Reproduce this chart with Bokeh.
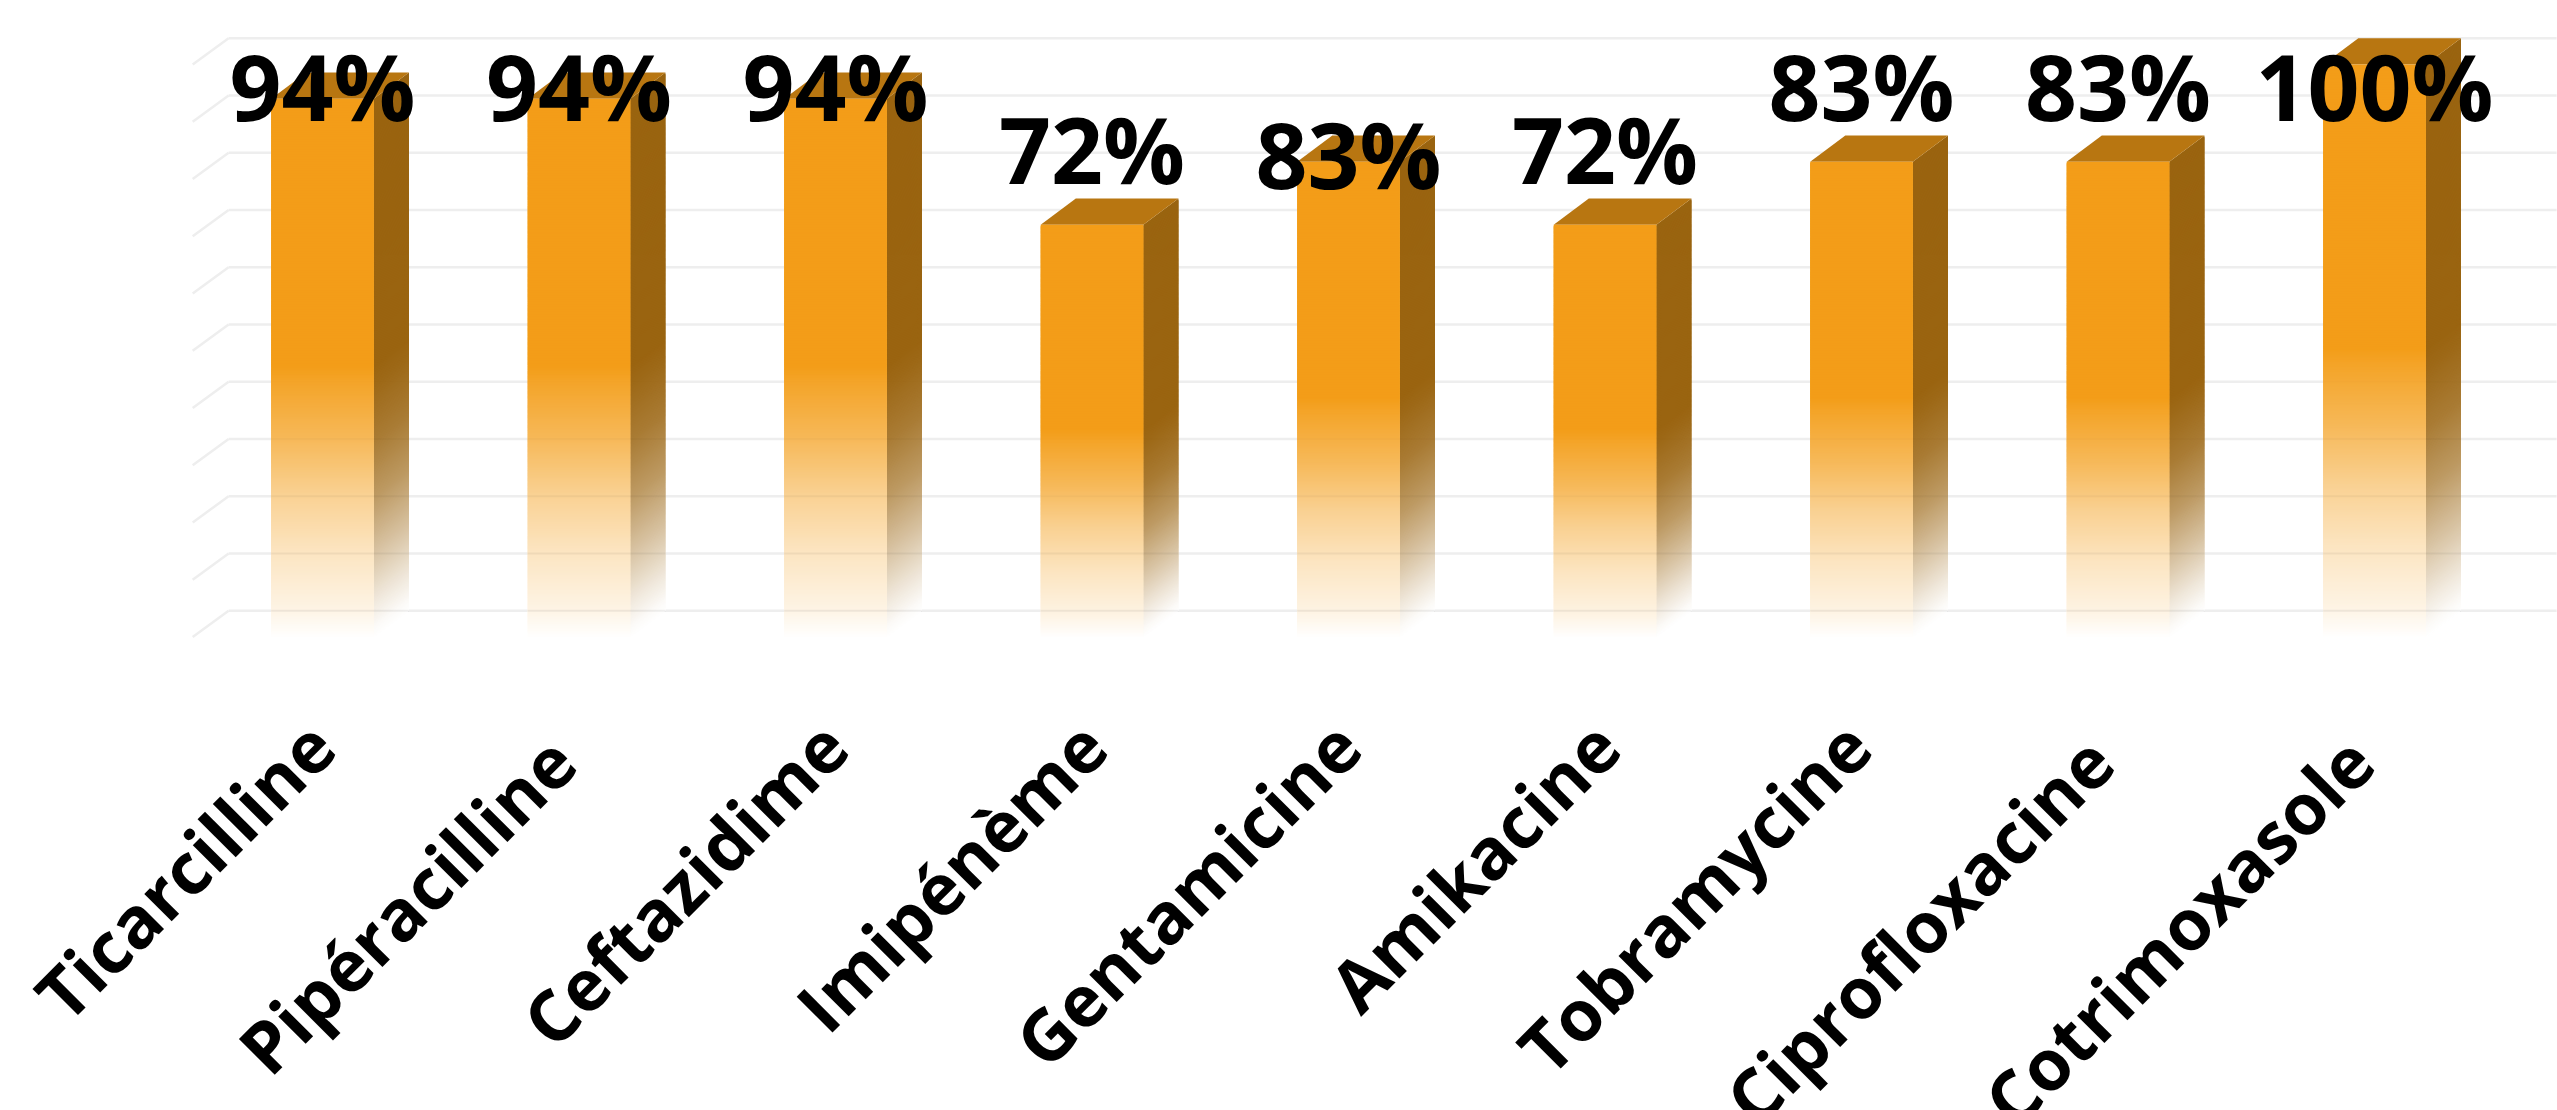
import numpy as np
from bokeh.core.properties import value
from bokeh.embed import file_html
from bokeh.models import Range1d
from bokeh.plotting import figure
from bokeh.resources import INLINE

drugs = ["Ticarcilline", "Pipéracilline", "Ceftazidime", "Imipénème", "Gentamicine",
         "Amikacine", "Tobramycine", "Ciprofloxacine", "Cotrimoxasole"]
resistance = [94, 94, 94, 72, 83, 72, 83, 83, 100]
value_labels = ["94%", "94%", "94%", "72%", "83%", "72%", "83%", "83%", "100%"]
grid_levels = [0, 10, 20, 30, 40, 50, 60, 70, 80, 90, 100]

# Layout of the pseudo-3D columns, in data units
BAR_WIDTH = 0.40
DEPTH_X = 0.137
DEPTH_Y = 4.6
GRID_LEFT, GRID_RIGHT = -0.366, 8.71
WALL_LEFT = GRID_LEFT - 0.14

# Baselines of the value labels and where the category names end
label_y = [96.25, 96.25, 96.25, 85.2, 84.3, 85.2, 96.25, 96.25, 96.25]
name_end_x = [-0.14, -0.20, -0.14, -0.13, -0.14, -0.13, -0.15, -0.205, -0.19]
name_end_y = [-10.8, -13.5, -10.8, -10.8, -10.8, -10.8, -10.8, -13.5, -13.5]

FRONT = np.array([243, 157, 24])
SIDE = np.array([154, 100, 16])
TOP = "#b87611"
GRID = "#eeeeee"

# Fade from opaque to white towards the foot of a column (height fraction -> opacity)
front_f = [0.0, 0.013, 0.055, 0.16, 0.266, 0.37, 0.477, 0.505]
front_a = [0.0, 0.03, 0.12, 0.27, 0.47, 0.72, 0.93, 1.0]
side_f = [0.0, 0.02, 0.07, 0.155, 0.26, 0.367, 0.47, 0.505]
side_a = [0.0, 0.03, 0.15, 0.38, 0.65, 0.85, 0.97, 1.0]
STEP = 0.22
OVERLAP = 0.3


def blend(rgb, a):
    c = rgb * a + 255 * (1 - a)
    return "#%02x%02x%02x" % tuple(int(round(v)) for v in c)


p = figure(width=2557, height=1110, output_backend="svg", toolbar_location=None,
           x_range=Range1d(-1.2553, 8.7135), y_range=Range1d(-82.7, 111.18),
           x_axis_location=None, y_axis_location=None, min_border=0,
           outline_line_color=None, background_fill_color="white")
p.grid.visible = False

# Back wall and left wall rules
levels = np.array(grid_levels, dtype=float)
p.segment(x0=[GRID_LEFT] * len(levels), y0=levels + DEPTH_Y, x1=[GRID_RIGHT] * len(levels),
          y1=levels + DEPTH_Y, line_color=GRID, line_width=2.5)
p.segment(x0=[GRID_LEFT] * len(levels), y0=levels + DEPTH_Y, x1=[WALL_LEFT] * len(levels),
          y1=levels, line_color=GRID, line_width=2.5)

fl, fr, ft, fb, fc = [], [], [], [], []
sx, sy, sc = [], [], []
tx, ty = [], []
ox0, ox1, oy, oa = [], [], [], []

for i, v in enumerate(resistance):
    xl, xr = i - BAR_WIDTH / 2, i + BAR_WIDTH / 2
    knee = v * 0.505
    # Thin overlapping bands, drawn from the top down, so that no seams appear
    for lv in np.arange(v, 0, -STEP):
        frac = lv / v
        low = max(lv - STEP - OVERLAP, 0.0)
        fl.append(xl); fr.append(xr); fb.append(low); ft.append(lv)
        fc.append(blend(FRONT, float(np.interp(frac, front_f, front_a))))
        sx.append([xr, xr + DEPTH_X, xr + DEPTH_X, xr])
        sy.append([lv, lv + DEPTH_Y, low + DEPTH_Y, low])
        sc.append(blend(SIDE, float(np.interp(frac, side_f, side_a))))
    tx.append([xl, xl + DEPTH_X, xr + DEPTH_X, xr])
    ty.append([v, v + DEPTH_Y, v + DEPTH_Y, v])
    for g in grid_levels:
        lift = g + DEPTH_Y
        if lift < knee:
            a = float(np.interp(lift / v, front_f, front_a))
            ox0.append(xl); ox1.append(xr + DEPTH_X); oy.append(lift)
            oa.append((1 - a) * 0.07)

# Column faces: side, roof, front
p.patches(xs=sx, ys=sy, fill_color=sc, line_color=None)
p.patches(xs=tx, ys=ty, fill_color=TOP, line_color=None)
p.quad(left=fl, right=fr, bottom=fb, top=ft, fill_color=fc, line_color=None)

# Wall rules showing faintly through the faded part
p.segment(x0=ox0, y0=oy, x1=ox1, y1=oy, line_color="#000000", line_alpha=oa, line_width=2)

p.text(x=list(range(9)), y=label_y, text=value_labels,
       text_font=value("Open Sans"), text_font_style="bold", text_font_size="91px",
       text_color="black", text_align="center", text_baseline="alphabetic")

p.text(x=[i + d for i, d in enumerate(name_end_x)], y=name_end_y, text=drugs, angle=45, angle_units="deg",
       text_font=value("Open Sans"), text_font_style="bold", text_font_size="71px",
       text_color="black", text_align="right", text_baseline="top")

open("out.html", "w").write(file_html(p, INLINE))
